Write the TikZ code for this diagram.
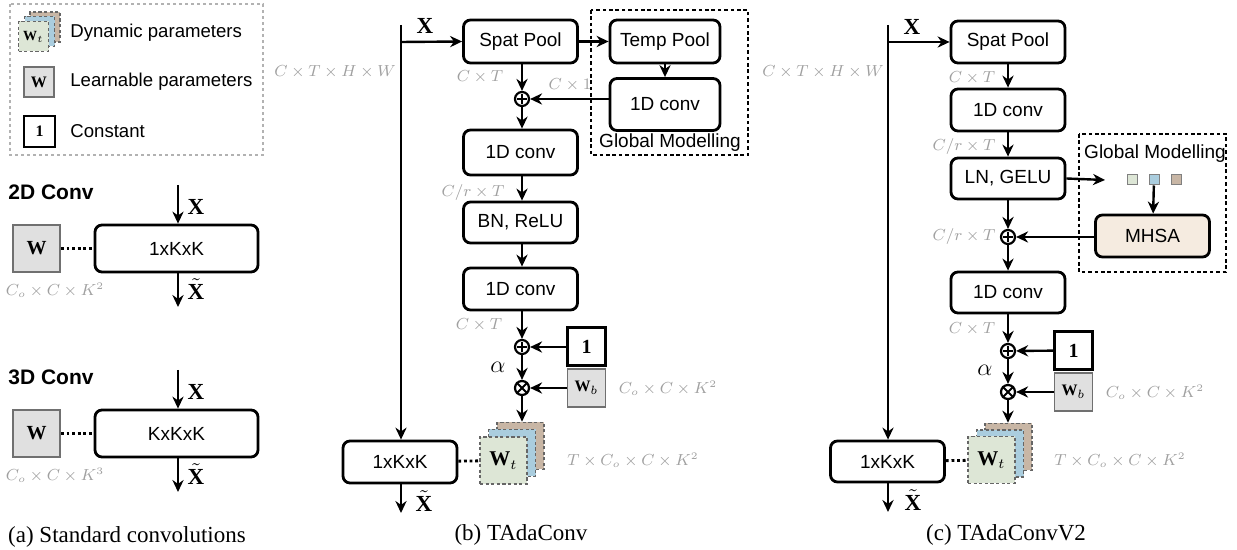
\documentclass[tikz,border=0pt]{standalone}
\usepackage{fontspec}
\setmainfont{Liberation Serif}
\setsansfont{Liberation Sans}
\usepackage{tikz}
\usetikzlibrary{arrows.meta}
\definecolor{labgray}{RGB}{160,160,160}
\definecolor{learnfill}{RGB}{224,224,224}
\definecolor{learnline}{RGB}{112,112,112}
\definecolor{dyngreen}{RGB}{221,230,214}
\definecolor{dynblue}{RGB}{170,205,222}
\definecolor{dynbrown}{RGB}{200,182,165}
\definecolor{mhsafill}{RGB}{245,235,224}
\newcommand{\blkfont}{\sffamily\fontsize{9.5}{11}\selectfont}
\newcommand{\lblfont}{\fontsize{7.6}{9}\selectfont}
\tikzset{
  blk/.style    ={draw, line width=1.4pt, rounded corners=3.5pt, fill=white, font=\blkfont,
                  minimum width=57pt, minimum height=21pt, inner sep=0pt},
  dimlbl/.style ={text=labgray, font=\lblfont, inner sep=0pt},
  arr/.style    ={-{Stealth[length=6pt,width=5.6pt]}, line width=1.2pt},
  opc/.style    ={circle, draw, line width=1.1pt, minimum size=7pt, inner sep=0pt},
  learn/.style  ={draw=learnline, fill=learnfill, line width=0.9pt, minimum size=19pt, inner sep=0pt},
  constbox/.style={draw, line width=1.5pt, fill=white, minimum size=19pt, inner sep=0pt,
                  font=\bfseries\fontsize{10}{12}\selectfont},
  dyn/.style    ={draw=black!60, dash pattern=on 1.6pt off 1.2pt, line width=0.8pt, fill=#1,
                  minimum size=23.5pt, inner sep=0pt},
  gmbox/.style  ={draw, dash pattern=on 1.8pt off 1.4pt, line width=0.8pt},
  legbox/.style ={draw=black!30, dash pattern=on 1.5pt off 1.5pt, line width=0.6pt},
  dotlink/.style={line width=1.4pt, dash pattern=on 1.4pt off 1.4pt},
  xlbl/.style   ={font=\fontsize{11.5}{13}\selectfont, inner sep=0pt},
  capt/.style   ={font=\fontsize{11.5}{13}\selectfont, inner sep=0pt},
  gmtxt/.style  ={font=\blkfont, inner sep=0pt},
  legtxt/.style ={font=\sffamily\fontsize{9.3}{11}\selectfont, anchor=west, inner sep=0pt},
  tok/.style    ={draw=gray, fill=#1, minimum size=5pt, inner sep=0pt, line width=0.5pt},
}
\begin{document}
\begin{tikzpicture}[x=0.5pt, y=-0.5pt]
  \useasboundingbox (0,0) rectangle (1237,550);
  % legend
  \draw[legbox] (10,4) rectangle (263,155);
  \node[dyn=dynbrown, minimum size=15pt] (legD3) at (45,27) {};
  \node[dyn=dynblue,  minimum size=15pt] (legD2) at (39.5,31.5) {};
  \node[dyn=dyngreen, minimum size=15pt, font=\fontsize{7}{8}\selectfont] (legD1) at (33.5,36.5) {$\textbf{W}_t$};
  \node[learn, minimum size=15pt, font=\bfseries\fontsize{8}{9}\selectfont] (legW) at (39,82) {W};
  \node[constbox, minimum size=15.5pt, line width=1.3pt, font=\bfseries\fontsize{8}{9}\selectfont] (legC) at (39.5,131.5) {1};
  \node[legtxt] (legDt) at (70,33) {Dynamic parameters};
  \node[legtxt] (legWt) at (70,82) {Learnable parameters};
  \node[legtxt] (legCt) at (70,131) {Constant};

  % (a) standard convolutions
  \foreach \yo/\ttl/\kname/\pw in {0/2D/1xKxK/2, 185/3D/KxKxK/3}{
    \begin{scope}[shift={(0,\yo)}]
      \node[font=\bfseries\sffamily\fontsize{10.5}{12}\selectfont, anchor=west, inner sep=0pt] (aT) at (8,192) {\ttl\ Conv};
      \coordinate (aIn) at (178,185);
      \coordinate (aOut) at (178,307);
      \node[blk, minimum width=81.5pt, minimum height=23.5pt] (aBox) at (176.5,248.5) {\kname};
      \node[learn, minimum size=23.5pt, font=\bfseries\fontsize{10}{12}\selectfont] (aW) at (36.5,248.5) {W};
      \draw[arr] (aIn) -- (aIn |- aBox.north);
      \draw[arr] (aBox.south -| aIn) -- (aOut);
      \draw[dotlink] (aW) -- (aBox);
      \node[xlbl] (aX) at (196,207) {$\textbf{X}$};
      \node[xlbl] (aXt) at (196,289) {$\tilde{\textbf{X}}$};
      \node[dimlbl] (aD) at (55,290) {$C_o\times C\times K^{\pw}$};
    \end{scope}
  }
  \node[capt] (captA) at (127,537) {(a) Standard convolutions};

  % (b) TAdaConv
  \coordinate (bIn) at (401,25);
  \coordinate (bJ) at (401,42);
  \coordinate (bOut) at (401,513);
  \draw[gmbox] (591,10) rectangle (748,155);
  \node[gmtxt] (gmB) at (670,143) {Global Modelling};
  \node[blk, minimum height=21.5pt] (spatB) at (520.5,41.5) {Spat Pool};
  \node[blk, minimum width=55pt, minimum height=21.5pt] (tempB) at (665,41.5) {Temp Pool};
  \node[blk, minimum width=55pt, minimum height=26pt] (convGB) at (665,104.5) {1D conv};
  \node[opc] (plusB1) at (522,99) {};
  \node[blk, minimum height=22.5pt] (conv1B) at (520.5,152.5) {1D conv};
  \node[blk, minimum height=20.5pt] (bnB) at (520.5,222.5) {BN, ReLU};
  \node[blk] (conv2B) at (520.5,289) {1D conv};
  \node[opc] (plusB2) at (522,347) {};
  \node[opc] (mulB) at (522,388) {};
  \node[constbox] (oneB) at (586.5,347) {1};
  \node[learn, font=\fontsize{8}{9}\selectfont] (wbB) at (586.5,388) {$\textbf{W}_b$};
  \node[dyn=dynbrown] (wtB3) at (520.5,446) {};
  \node[dyn=dynblue] (wtB2) at (512,453) {};
  \node[dyn=dyngreen, font=\fontsize{10.5}{12}\selectfont] (wtB1) at (503.5,460.5) {$\textbf{W}_t$};
  \node[blk] (convB) at (400,462) {1xKxK};
  \draw[line width=1.2pt] (bIn) -- (bJ);
  \draw[arr] (bJ) -- (bJ |- convB.north);
  \draw[arr] (bJ) -- (spatB.west);
  \draw[arr] (spatB) -- (tempB);
  \draw[arr] (tempB) -- (convGB);
  \draw[arr] (spatB.south -| plusB1) -- (plusB1);
  \draw[arr] (convGB.west |- plusB1) -- (plusB1);
  \draw[arr] (plusB1) -- (plusB1 |- conv1B.north);
  \draw[arr] (conv1B.south -| plusB1) -- (plusB1 |- bnB.north);
  \draw[arr] (bnB.south -| plusB1) -- (plusB1 |- conv2B.north);
  \draw[arr] (conv2B.south -| plusB2) -- (plusB2);
  \draw[arr] (oneB) -- (plusB2);
  \draw[arr] (plusB2) -- (mulB);
  \draw[arr] (wbB) -- (mulB);
  \draw[arr] (mulB) -- (mulB |- wtB3.north);
  \draw[dotlink] (convB) -- (wtB1);
  \draw[arr] (convB.south -| bOut) -- (bOut);
  \node[xlbl] (bX) at (425,26) {$\textbf{X}$};
  \node[xlbl] (bXt) at (424,501) {$\tilde{\textbf{X}}$};
  \node[dimlbl] at (335,72) {$C\times T\times H\times W$};
  \node[dimlbl] at (480,77) {$C\times T$};
  \node[dimlbl] at (570,85) {$C\times 1$};
  \node[dimlbl] at (473,193) {$C/r\times T$};
  \node[dimlbl] at (479,325) {$C\times T$};
  \node[xlbl] at (498,367) {$\alpha$};
  \node[dimlbl] at (668,388) {$C_o\times C\times K^2$};
  \node[dimlbl] at (633,460) {$T\times C_o\times C\times K^2$};
  \node[capt] (captB) at (521,535) {(b) TAdaConv};

  % (c) TAdaConvV2
  \coordinate (cIn) at (888,25);
  \coordinate (cJ) at (888,42);
  \coordinate (cOut) at (888,512);
  \coordinate (tokIn) at (1105,180);
  \draw[gmbox] (1079,134) rectangle (1226,272);
  \node[gmtxt] (gmC) at (1155,154) {Global Modelling};
  \node[blk] (spatC) at (1008,42) {Spat Pool};
  \node[blk] (conv1C) at (1008,110) {1D conv};
  \node[blk, minimum height=20.5pt] (lnC) at (1008,178.5) {LN, GELU};
  \node[opc] (plusC1) at (1008,237) {};
  \node[blk, fill=mhsafill] (mhsa) at (1152.5,236) {MHSA};
  \node[tok=dyngreen] (sq1) at (1132,180) {};
  \node[tok=dynblue]  (sq2) at (1154,180) {};
  \node[tok=dynbrown] (sq3) at (1176,180) {};
  \node[blk, minimum height=20.5pt] (conv2C) at (1008,292.5) {1D conv};
  \node[opc] (plusC2) at (1008,351) {};
  \node[opc] (mulC) at (1008,392) {};
  \node[constbox] (oneC) at (1073.5,350.5) {1};
  \node[learn, font=\fontsize{8}{9}\selectfont] (wbC) at (1073.5,392) {$\textbf{W}_b$};
  \node[dyn=dynbrown] (wtC3) at (1008.5,447) {};
  \node[dyn=dynblue] (wtC2) at (1000,453.5) {};
  \node[dyn=dyngreen, font=\fontsize{10.5}{12}\selectfont] (wtC1) at (991.5,460) {$\textbf{W}_t$};
  \node[blk, minimum height=20.5pt] (convC) at (887.5,461.5) {1xKxK};
  \draw[line width=1.2pt] (cIn) -- (cJ);
  \draw[arr] (cJ) -- (cJ |- convC.north);
  \draw[arr] (cJ) -- (spatC.west);
  \draw[arr] (spatC) -- (conv1C);
  \draw[arr] (conv1C) -- (lnC);
  \draw[arr] (lnC.east) -- (tokIn);
  \draw[arr] (sq2) -- (mhsa);
  \draw[arr] (lnC) -- (plusC1);
  \draw[arr] (mhsa.west |- plusC1) -- (plusC1);
  \draw[arr] (plusC1) -- (conv2C);
  \draw[arr] (conv2C) -- (plusC2);
  \draw[arr] (oneC) -- (plusC2);
  \draw[arr] (plusC2) -- (mulC);
  \draw[arr] (wbC) -- (mulC);
  \draw[arr] (mulC) -- (mulC |- wtC3.north);
  \draw[dotlink] (convC) -- (wtC1);
  \draw[arr] (convC.south -| cOut) -- (cOut);
  \node[xlbl] (cX) at (912,27) {$\textbf{X}$};
  \node[xlbl] (cXt) at (913,500) {$\tilde{\textbf{X}}$};
  \node[dimlbl] at (823,72) {$C\times T\times H\times W$};
  \node[dimlbl] at (972,78) {$C\times T$};
  \node[dimlbl] at (964,147) {$C/r\times T$};
  \node[dimlbl] at (964,237) {$C/r\times T$};
  \node[dimlbl] at (972,329) {$C\times T$};
  \node[xlbl] at (985,370) {$\alpha$};
  \node[dimlbl] at (1155,392) {$C_o\times C\times K^2$};
  \node[dimlbl] at (1120,460) {$T\times C_o\times C\times K^2$};
  \node[capt] (captC) at (1006,535) {(c) TAdaConvV2};

  % operator symbols
  \foreach \p in {plusB1,plusB2,plusC1,plusC2}
    \draw[line width=1.1pt] ([yshift=2.3pt]\p.center) -- ([yshift=-2.3pt]\p.center)
                            ([xshift=-2.3pt]\p.center) -- ([xshift=2.3pt]\p.center);
  \foreach \m in {mulB,mulC}
    \draw[line width=1pt] (\m.north west) -- (\m.south east) (\m.north east) -- (\m.south west);
\end{tikzpicture}
\end{document}
